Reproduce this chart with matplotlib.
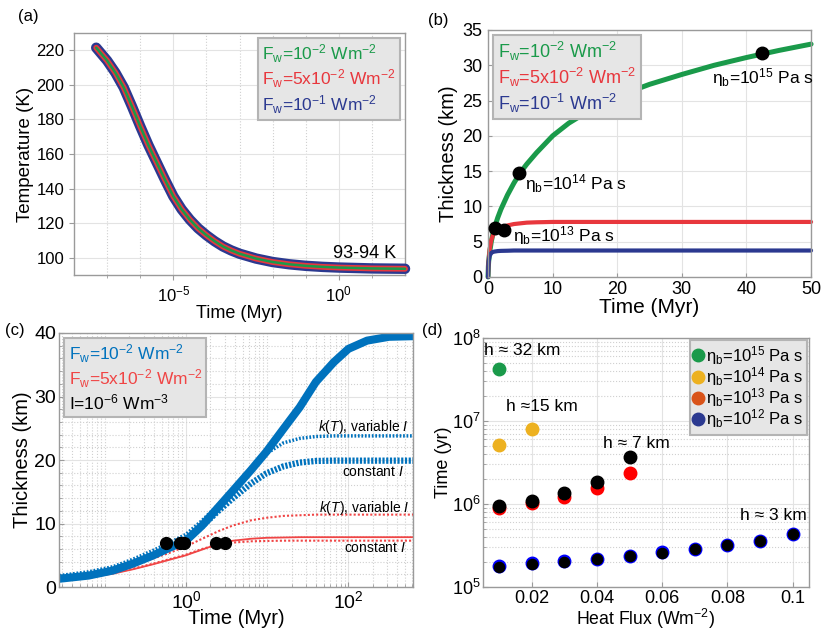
import numpy as np
import matplotlib
matplotlib.use('Agg')
import matplotlib.pyplot as plt
from matplotlib.lines import Line2D
from matplotlib.ticker import LogLocator, NullFormatter, LogFormatterSciNotation, MultipleLocator, FixedLocator

plt.rcParams['font.family'] = ['Liberation Sans', 'DejaVu Sans']
plt.rcParams['mathtext.fontset'] = 'custom'
plt.rcParams['mathtext.rm'] = 'Liberation Sans'
plt.rcParams['mathtext.it'] = 'Liberation Sans:italic'
plt.rcParams['mathtext.bf'] = 'Liberation Sans:bold'
plt.rcParams['axes.edgecolor'] = '#9a9a9a'
plt.rcParams['axes.linewidth'] = 1.0

# colours
green = '#1a9a4a'
red = '#e8373d'
navy = '#2b3990'
mblue = '#0072bd'
lred = '#f04545'

# ---- (a) temperature vs time (log10 Myr)
logt_a = [-7.33, -7.0, -6.75, -6.5, -6.25, -6.0, -5.75, -5.5, -5.25, -5.0, -4.75, -4.5, -4.25,
          -4.0, -3.75, -3.5, -3.25, -3.0, -2.5, -2.0, -1.5, -1.0, -0.5, 0.0, 1.0, 2.0]
temp_a = [221.5, 214, 207, 198.5, 187.5, 176, 165, 155, 145, 135.5, 128, 122, 117,
          113, 109.5, 106.5, 104.2, 102.3, 99.5, 97.5, 96.2, 95.3, 94.7, 94.3, 93.8, 93.6]
leg_a = [r'F$_{\rm w}$=10$^{-2}$ Wm$^{-2}$', r'F$_{\rm w}$=5x10$^{-2}$ Wm$^{-2}$', r'F$_{\rm w}$=10$^{-1}$ Wm$^{-2}$']

# ---- (b) thickness vs time (Myr)
t_b = [0, 0.05, 0.1, 0.25, 0.5, 0.75, 1, 1.5, 2, 3, 4, 5, 6, 7.5, 10, 12.5, 15, 17.5, 20, 25, 30, 35, 40, 45, 50]
h_green_b = [0, 1.5, 2.2, 3.5, 5.0, 6.1, 7.0, 8.4, 9.6, 11.6, 13.3, 14.8, 16.0, 17.6, 20.0, 21.8, 23.2,
             24.5, 25.6, 27.3, 28.7, 30.0, 31.1, 32.1, 33.0]
h_red_b = [0, 1.6, 2.4, 3.9, 5.2, 5.9, 6.3, 6.7, 6.95, 7.3, 7.5, 7.6, 7.7, 7.75, 7.8, 7.8, 7.8,
           7.8, 7.8, 7.8, 7.8, 7.8, 7.8, 7.8, 7.8]
h_blue_b = [0, 1.4, 2.2, 3.0, 3.4, 3.55, 3.6, 3.67, 3.7, 3.72, 3.75, 3.75, 3.75, 3.75, 3.75, 3.75, 3.75,
            3.75, 3.75, 3.75, 3.75, 3.75, 3.75, 3.75, 3.75]
t_dots_b = [1.0, 2.4, 4.8, 42.4]
h_dots_b = [7.0, 6.7, 14.7, 31.8]
visc_b = [r'η$_{\rm b}$=10$^{15}$ Pa s', r'η$_{\rm b}$=10$^{14}$ Pa s', r'η$_{\rm b}$=10$^{13}$ Pa s']

# ---- (c) thickness vs time (log10 Myr) with internal heating
logt_c = [-1.56, -1.2, -0.9, -0.65, -0.4, -0.2, 0.0, 0.2, 0.4, 0.58, 0.8, 0.99, 1.2, 1.4, 1.6, 1.82, 2.0, 2.23, 2.5, 2.8]
h_blue_c = [1.3, 1.8, 2.6, 3.7, 5.0, 6.2, 7.3, 9.7, 12.6, 15.2, 18.4, 21.3, 24.9, 28.3, 32.3, 35.4, 37.5, 38.8, 39.4, 39.5]
h_blue_var_c = [1.8, 2.4, 3.2, 4.4, 5.8, 7.0, 8.3, 10.5, 13.0, 15.5, 18.6, 21.0, 22.7, 23.4, 23.7, 23.8, 23.8, 23.8, 23.8, 23.8]
h_blue_const_c = [1.3, 1.8, 2.6, 3.7, 5.0, 6.2, 7.3, 9.6, 12.0, 14.0, 16.3, 17.9, 19.0, 19.6, 19.85, 19.9, 19.9, 19.9, 19.9, 19.9]
h_red_c = [1.0, 1.5, 2.1, 2.8, 3.6, 4.3, 5.0, 5.9, 6.8, 7.3, 7.6, 7.75, 7.8, 7.85, 7.85, 7.85, 7.85, 7.85, 7.85, 7.85]
h_red_var_c = [1.5, 2.0, 2.7, 3.5, 4.5, 5.4, 6.4, 7.6, 8.8, 9.7, 10.5, 10.9, 11.2, 11.3, 11.4, 11.4, 11.4, 11.4, 11.4, 11.4]
h_red_const_c = [1.2, 1.6, 2.2, 2.9, 3.7, 4.4, 5.1, 6.0, 6.7, 7.0, 7.2, 7.25, 7.3, 7.3, 7.3, 7.3, 7.3, 7.3, 7.3, 7.3]
t_dots_c = [0.56, 0.85, 0.95, 2.35, 3.0]
h_dots_c = [6.9, 6.9, 6.9, 6.9, 6.9]
leg_c = [r'F$_{\rm w}$=10$^{-2}$ Wm$^{-2}$', r'F$_{\rm w}$=5x10$^{-2}$ Wm$^{-2}$', r'I=10$^{-6}$ Wm$^{-3}$']

# ---- (d) time vs heat flux
flux_green = [0.01]
time_green = [4.2e7]
flux_yellow = [0.01, 0.02]
time_yellow = [5.1e6, 8.1e6]
flux_mid = [0.01, 0.02, 0.03, 0.04, 0.05]
time_red = [8.9e5, 1.04e6, 1.21e6, 1.57e6, 2.36e6]
time_black_mid = [9.4e5, 1.09e6, 1.36e6, 1.84e6, 3.68e6]
flux_low = [0.01, 0.02, 0.03, 0.04, 0.05, 0.06, 0.07, 0.08, 0.09, 0.1]
time_blue = [1.77e5, 1.96e5, 2.04e5, 2.19e5, 2.36e5, 2.63e5, 2.9e5, 3.24e5, 3.63e5, 4.31e5]
time_black_low = [1.75e5, 1.92e5, 2.0e5, 2.19e5, 2.35e5, 2.6e5, 2.87e5, 3.2e5, 3.63e5, 4.31e5]
leg_d = [r'η$_{\rm b}$=10$^{15}$ Pa s', r'η$_{\rm b}$=10$^{14}$ Pa s',
         r'η$_{\rm b}$=10$^{13}$ Pa s', r'η$_{\rm b}$=10$^{12}$ Pa s']
leg_d_colors = [green, '#edb120', '#d95319', navy]


def text_legend(ax, labels, colors, loc, fs):
    hs = [Line2D([], [], ls='none') for _ in labels]
    lg = ax.legend(hs, labels, loc=loc, handlelength=0, handletextpad=0, fontsize=fs,
                   labelcolor=colors, facecolor='#e6e6e6', edgecolor='#b4b4b4', framealpha=1,
                   fancybox=False, borderpad=0.25, labelspacing=0.15, borderaxespad=0.3)
    lg.get_frame().set_linewidth(1.5)
    return lg


fig = plt.figure(figsize=(8.3, 6.41), dpi=100)

# (a)
ax = fig.add_axes([0.0892, 0.5710, 0.3988, 0.3775])
ta = 10 ** np.array(logt_a)
ax.plot(ta, temp_a, color=navy, lw=7.5, solid_capstyle='round', solid_joinstyle='round', clip_on=False, zorder=3)
ax.plot(ta, temp_a, color=red, lw=4.2, solid_capstyle='round', solid_joinstyle='round', clip_on=False, zorder=4)
ax.plot(ta, temp_a, color=green, lw=1.8, solid_capstyle='round', solid_joinstyle='round', clip_on=False, zorder=5)
ax.set_xscale('log')
ax.set_xlim(1e-8, 1e2)
ax.set_ylim(90, 230)
ax.xaxis.set_major_locator(FixedLocator([1e-5, 1e0]))
ax.xaxis.set_major_formatter(LogFormatterSciNotation(base=10))
ax.xaxis.set_minor_locator(FixedLocator([1e-7, 1e-6, 1e-4, 1e-3, 1e-2, 1e-1, 1e1]))
ax.xaxis.set_minor_formatter(NullFormatter())
ax.yaxis.set_major_locator(MultipleLocator(20))
ax.grid(True, which='major', color='#e3e3e3', lw=0.8)
ax.grid(True, which='minor', axis='x', color='#d0d0d0', ls=':', lw=0.8)
ax.set_axisbelow(True)
ax.tick_params(which='both', direction='out', labelsize=12, color='#9a9a9a')
ax.tick_params(which='minor', length=2)
ax.set_xlabel('Time (Myr)', fontsize=13, labelpad=0)
ax.set_ylabel('Temperature (K)', fontsize=13.5, labelpad=2)
ax.text(0.65, 102.5, '93-94 K', fontsize=13, ha='left', va='center')
text_legend(ax, leg_a, [green, red, navy], 'upper right', 12.5)
fig.text(28 / 830, 1 - 16 / 641, '(a)', fontsize=12, ha='center', va='center')

# (b)
ax = fig.add_axes([0.5880, 0.5679, 0.3892, 0.3853])
ax.plot(t_b, h_green_b, color=green, lw=3.6, solid_capstyle='round', clip_on=False)
ax.plot(t_b, h_red_b, color=red, lw=3.0, solid_capstyle='round', clip_on=False)
ax.plot(t_b, h_blue_b, color=navy, lw=3.0, solid_capstyle='round', clip_on=False)
ax.plot(t_dots_b, h_dots_b, 'o', color='black', ms=9, zorder=6)
ax.set_xlim(0, 50)
ax.set_ylim(0, 35)
ax.xaxis.set_major_locator(MultipleLocator(10))
ax.yaxis.set_major_locator(MultipleLocator(5))
ax.grid(True, which='major', color='#e3e3e3', lw=0.8)
ax.set_axisbelow(True)
ax.tick_params(direction='in', length=3, labelsize=13, color='#9a9a9a')
ax.tick_params(axis='x', pad=3)
ax.tick_params(axis='y', pad=4)
ax.set_xlabel('Time (Myr)', fontsize=15, labelpad=0)
ax.set_ylabel('Thickness (km)', fontsize=14.5, labelpad=3)
ax.text(34.7, 28.3, visc_b[0], fontsize=12.5, ha='left', va='center')
ax.text(5.7, 13.3, visc_b[1], fontsize=12.5, ha='left', va='center')
ax.text(3.9, 5.9, visc_b[2], fontsize=12.5, ha='left', va='center')
text_legend(ax, leg_a, [green, red, navy], 'upper left', 13)
fig.text(438 / 830, 1 - 20 / 641, '(b)', fontsize=12, ha='center', va='center')

# (c)
ax = fig.add_axes([0.0711, 0.0842, 0.4265, 0.3963])
tc = 10 ** np.array(logt_c)
ax.plot(tc, h_red_c, color=lred, lw=1.3)
ax.plot(tc, h_red_var_c, color=lred, lw=1.5, ls=(0, (1, 1)))
ax.plot(tc, h_red_const_c, color=lred, lw=1.5, ls=(0, (1, 1)))
ax.plot(tc, h_blue_var_c, color=mblue, lw=2.5, ls=(0, (0.5, 0.5)))
ax.plot(tc, h_blue_const_c, color=mblue, lw=4.5, ls=(0, (0.35, 0.25)))
ax.plot(tc, h_blue_c, color=mblue, lw=5.8)
ax.plot(t_dots_c, h_dots_c, 'o', color='black', ms=8.5, zorder=6)
ax.set_xscale('log')
ax.set_xlim(0.0273, 625)
ax.set_ylim(0, 40)
ax.xaxis.set_major_locator(FixedLocator([1e0, 1e2]))
ax.xaxis.set_major_formatter(LogFormatterSciNotation(base=10))
ax.xaxis.set_minor_locator(LogLocator(base=10, subs=np.arange(1, 10), numticks=30))
ax.xaxis.set_minor_formatter(NullFormatter())
ax.yaxis.set_major_locator(MultipleLocator(10))
ax.yaxis.set_minor_locator(MultipleLocator(2))
ax.grid(True, which='major', color='#e3e3e3', lw=0.8)
ax.grid(True, which='minor', color='#d0d0d0', ls=':', lw=0.8)
ax.set_axisbelow(True)
ax.tick_params(which='both', direction='in', labelsize=14, color='#9a9a9a', pad=2)
ax.tick_params(which='minor', length=2)
ax.set_xlabel('Time (Myr)', fontsize=14.5, labelpad=-2)
ax.set_ylabel('Thickness (km)', fontsize=14.5, labelpad=2)
ax.text(42.4, 25.2, r'$\it{k(T)}$, variable $\it{I}$', fontsize=10, ha='left', va='center')
ax.text(83, 18.1, r'constant $\it{I}$', fontsize=10, ha='left', va='center')
ax.text(43.6, 12.4, r'$\it{k(T)}$, variable $\it{I}$', fontsize=10, ha='left', va='center')
ax.text(89, 6.1, r'constant $\it{I}$', fontsize=10, ha='left', va='center')
text_legend(ax, leg_c, [mblue, lred, 'black'], 'upper left', 12.5)
fig.text(15 / 830, 1 - 330 / 641, '(c)', fontsize=12, ha='center', va='center')

# (d)
ax = fig.add_axes([0.5819, 0.0842, 0.3928, 0.3885])
ax.plot(flux_green, time_green, 'o', color=green, ms=9)
ax.plot(flux_yellow, time_yellow, 'o', color='#edb120', ms=9)
ax.plot(flux_mid, time_red, 'o', color='#ff0000', ms=9)
ax.plot(flux_mid, time_black_mid, 'o', color='black', ms=9)
ax.plot(flux_low, time_blue, 'o', color='#0000ff', ms=9, clip_on=False)
ax.plot(flux_low, time_black_low, 'o', color='black', ms=7.3, clip_on=False)
ax.set_yscale('log')
ax.set_xlim(0.005, 0.105)
ax.set_ylim(1e5, 1e8)
ax.set_xticks([0.02, 0.04, 0.06, 0.08, 0.1])
ax.set_xticklabels(['0.02', '0.04', '0.06', '0.08', '0.1'])
ax.yaxis.set_minor_locator(LogLocator(base=10, subs=np.arange(2, 10), numticks=20))
ax.yaxis.set_minor_formatter(NullFormatter())
ax.grid(True, which='major', color='#e3e3e3', lw=0.8)
ax.grid(True, which='minor', axis='y', color='#d0d0d0', ls=':', lw=0.8)
ax.set_axisbelow(True)
ax.tick_params(which='both', direction='in', labelsize=13, color='#9a9a9a', pad=2)
ax.tick_params(which='minor', length=2)
ax.set_xlabel(r'Heat Flux (Wm$^{-2}$)', fontsize=12.7, labelpad=0)
ax.set_ylabel('Time (yr)', fontsize=13, labelpad=0)
ax.text(0.0054, 7.1e7, 'h ≈ 32 km', fontsize=12.5, ha='left', va='center')
ax.text(0.0121, 1.48e7, 'h ≈15 km', fontsize=12.5, ha='left', va='center')
ax.text(0.0419, 5.33e6, 'h ≈ 7 km', fontsize=12.5, ha='left', va='center')
ax.text(0.0839, 7.3e5, 'h ≈ 3 km', fontsize=12.5, ha='left', va='center')
hd = [Line2D([], [], ls='none', marker='o', ms=9, color=c) for c in leg_d_colors]
lg = ax.legend(hd, leg_d, loc='upper right', fontsize=12, handlelength=0.5, handletextpad=0.2,
               labelspacing=-0.1, borderpad=0.25, borderaxespad=0.1, facecolor='#e6e6e6',
               edgecolor='#b4b4b4', framealpha=1, fancybox=False)
lg.get_frame().set_linewidth(1.5)
fig.text(432 / 830, 1 - 330 / 641, '(d)', fontsize=12, ha='center', va='center')

fig.savefig('out.png', dpi=100)
